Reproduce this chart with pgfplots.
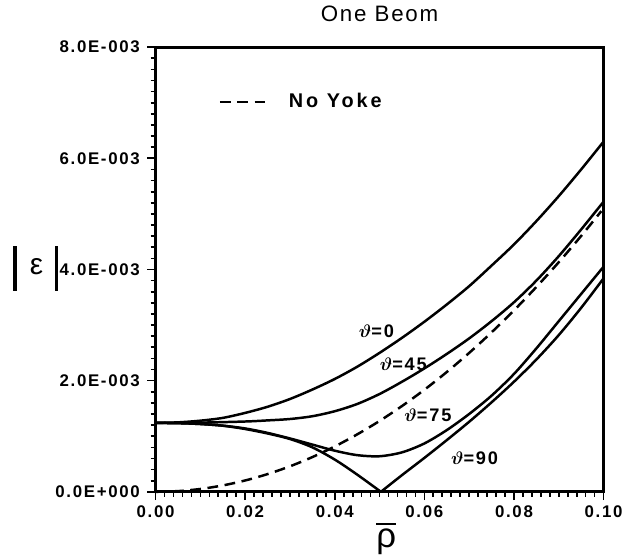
\documentclass[border=0pt]{standalone}
\usepackage{fontspec}
\setmainfont{Liberation Sans}
\newfontfamily\tickfont[LetterSpace=10]{Liberation Sans}
\newfontfamily\titlefont[LetterSpace=8]{Liberation Sans}
\newfontfamily\legfont[LetterSpace=15]{Liberation Sans}
\usepackage{amsmath}
\usepackage{pgfplots}
\pgfplotsset{compat=1.18}

% y values in units of 1E-3
\pgfplotstableread{
x y
0 1.24
0.005 1.25
0.01 1.28
0.015 1.33
0.02 1.42
0.025 1.53
0.03 1.67
0.035 1.84
0.04 2.03
0.045 2.25
0.05 2.50
0.055 2.77
0.06 3.06
0.065 3.37
0.07 3.70
0.075 4.07
0.08 4.45
0.085 4.87
0.09 5.32
0.095 5.80
0.1 6.30
}\thzero
\pgfplotstableread{
x y
0 1.24
0.01 1.245
0.02 1.265
0.025 1.285
0.03 1.31
0.035 1.36
0.04 1.45
0.045 1.58
0.05 1.76
0.055 1.98
0.06 2.22
0.065 2.48
0.07 2.76
0.075 3.07
0.08 3.41
0.085 3.80
0.09 4.24
0.095 4.72
0.1 5.22
}\thfortyfive
\pgfplotstableread{
x y
0 1.24
0.005 1.235
0.01 1.22
0.015 1.19
0.02 1.14
0.025 1.06
0.03 0.96
0.035 0.85
0.04 0.74
0.045 0.66
0.05 0.64
0.055 0.71
0.06 0.87
0.065 1.11
0.07 1.40
0.075 1.73
0.08 2.12
0.085 2.58
0.09 3.07
0.095 3.56
0.1 4.05
}\thseventyfive
\pgfplotstableread{
x y
0 1.24
0.005 1.235
0.01 1.22
0.015 1.19
0.02 1.13
0.025 1.05
0.03 0.95
0.035 0.80
0.04 0.58
0.045 0.31
0.0503 0.0
}\thninetyleft
\pgfplotstableread{
x y
0.0503 0.0
0.055 0.30
0.06 0.61
0.065 0.93
0.07 1.26
0.075 1.61
0.08 1.98
0.085 2.38
0.09 2.82
0.095 3.31
0.1 3.84
}\thninetyright
\pgfplotstableread{
x y
0 0
0.005 0.013
0.01 0.051
0.015 0.115
0.02 0.204
0.025 0.319
0.03 0.459
0.035 0.625
0.04 0.816
0.045 1.033
0.05 1.275
0.055 1.543
0.06 1.836
0.065 2.155
0.07 2.499
0.075 2.869
0.08 3.264
0.085 3.685
0.09 4.131
0.095 4.603
0.0995 5.05
}\noyoke

\begin{document}
\begin{tikzpicture}
\begin{axis}[
  scale only axis,
  width=271pt, height=269pt,
  xmin=0, xmax=0.1, ymin=0, ymax=8,
  xtick={0,0.02,0.04,0.06,0.08,0.1},
  xticklabels={0.00,0.02,0.04,0.06,0.08,0.10},
  ytick={0,2,4,6,8},
  yticklabels={0.0E+000,2.0E-003,4.0E-003,6.0E-003,8.0E-003},
  minor x tick num=9, minor y tick num=9,
  tick pos=left, tick align=outside,
  major tick length=5pt, minor tick length=3pt,
  every tick/.style={black, line width=1pt},
  axis line style={line width=1.7pt},
  ticklabel style={font=\tickfont\bfseries\fontsize{10.2}{10.2}\selectfont},
  yticklabel style={xshift=-1pt},
  title={\titlefont\fontsize{13.5}{13.5}\selectfont One Beom},
  title style={at={(0.5,1.0536)}, anchor=center},
  xlabel={\fontsize{21}{21}\selectfont$\overline{\text{ρ}}$},
  xlabel style={at={(rel axis cs:0.515,-0.105)}, anchor=center, inner sep=0pt},
  ylabel={\rule[-10pt]{2pt}{27pt}\hspace{8pt}{\fontsize{18}{18}\selectfont ε}\hspace{7pt}\rule[-10pt]{2pt}{27pt}},
  ylabel style={rotate=-90, at={(rel axis cs:-0.2677,0.502)}, anchor=center, inner sep=0pt},
  legend style={at={(0.14,0.877)}, anchor=west, draw=none, fill=none,
    font=\legfont\bfseries\fontsize{12}{12}\selectfont, inner xsep=0pt},
  legend image code/.code={\draw[#1] (0pt,0pt) -- (30pt,0pt);},
  clip=false,
  every axis plot/.append style={line width=1.5pt, black, smooth, tension=0.5},
]
\path (rel axis cs:-0.3473,-0.1429) rectangle (rel axis cs:1.042,1.0938);
\addplot[dash pattern=on 6.5pt off 4pt] table[x=x,y=y] {\noyoke};
\addlegendentry{\hspace{9pt}No Yoke}
\addplot[forget plot] table[x=x,y=y] {\thzero};
\addplot[forget plot] table[x=x,y=y] {\thfortyfive};
\addplot[forget plot] table[x=x,y=y] {\thseventyfive};
\addplot[forget plot] table[x=x,y=y] {\thninetyleft};
\addplot[forget plot] table[x=x,y=y] {\thninetyright};
\begin{scope}[every node/.style={font=\tickfont\bfseries\fontsize{11}{11}\selectfont, inner sep=0pt}]
\node at (axis cs:0.0493,2.89) {$\boldsymbol{\vartheta}$=0};
\node at (axis cs:0.0553,2.29) {$\boldsymbol{\vartheta}$=45};
\node at (axis cs:0.0608,1.375) {$\boldsymbol{\vartheta}$=75};
\node at (axis cs:0.0712,0.61) {$\boldsymbol{\vartheta}$=90};
\end{scope}
\end{axis}
\end{tikzpicture}
\end{document}
